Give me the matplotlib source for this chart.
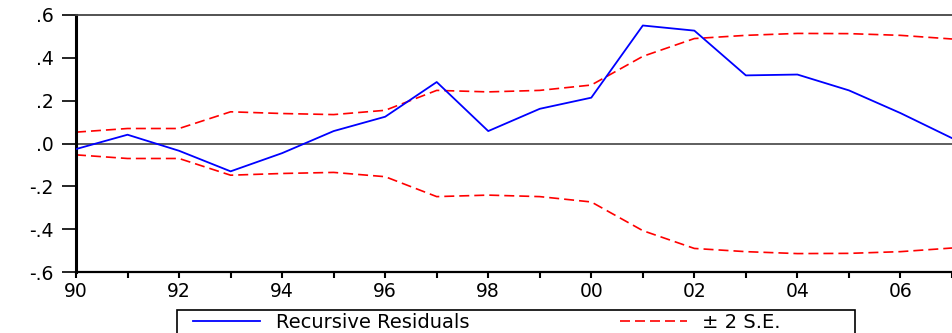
import matplotlib
matplotlib.use("Agg")
import matplotlib.pyplot as plt
from matplotlib.ticker import FixedLocator, FuncFormatter
from matplotlib.patches import Rectangle

years = list(range(1990, 2008))
resid = [-0.026, 0.041, -0.034, -0.130, -0.045, 0.058, 0.125, 0.287, 0.058,
         0.162, 0.214, 0.551, 0.527, 0.318, 0.322, 0.248, 0.142, 0.025]
se2 = [0.053, 0.070, 0.070, 0.148, 0.140, 0.135, 0.155, 0.248, 0.241,
       0.248, 0.273, 0.407, 0.490, 0.505, 0.514, 0.513, 0.505, 0.488]
neg_se2 = [-v for v in se2]
y_ticks = [-0.6, -0.4, -0.2, 0.0, 0.2, 0.4, 0.6]
x_label_years = list(range(1990, 2007, 2))
legend_labels = ['Recursive Residuals', '± 2 S.E.']

plt.rcParams['font.family'] = ['DejaVu Sans']

W, H = 952, 333
fig = plt.figure(figsize=(W/100, H/100), dpi=100)
ax = fig.add_axes([76/W, 61/H, 1 - 76/W, (272-15)/H])

ax.axhline(0, color='#333333', lw=1.1, zorder=1)
blue, = ax.plot(years, resid, color='#0000ff', lw=1.3, zorder=3)
l1, = ax.plot(years, se2, color='#ff0000', lw=1.2, zorder=2)
l2, = ax.plot(years, neg_se2, color='#ff0000', lw=1.2, zorder=2)
for l in (l1, l2):
    l.set_dashes([6, 3])

ax.set_xlim(1990, 2007)
ax.set_ylim(-0.6, 0.6)

ax.xaxis.set_major_locator(FixedLocator(years))
ax.xaxis.set_major_formatter(FuncFormatter(
    lambda v, p: ('%02d' % (int(round(v)) % 100)) if int(round(v)) in x_label_years else ''))
ax.yaxis.set_major_locator(FixedLocator(y_ticks))
def yfmt(v, p):
    s = '%.1f' % v
    s = s.replace('0.', '.')
    if s == '-.0':
        s = '.0'
    return s
ax.yaxis.set_major_formatter(FuncFormatter(yfmt))

ax.tick_params(axis='x', direction='out', length=4, width=1.5, color='black',
               labelsize=13.5, pad=3)
ax.tick_params(axis='y', direction='out', length=10, width=1.2, color='black',
               labelsize=13.5, pad=6)

ax.spines['left'].set_linewidth(2.2)
ax.spines['left'].set_color('black')
ax.spines['bottom'].set_linewidth(1.6)
ax.spines['bottom'].set_color('black')
ax.spines['top'].set_linewidth(1.3)
ax.spines['top'].set_color('#444444')
ax.spines['right'].set_visible(False)

fs = 14
em = fs * 100 / 72.0
leg = fig.legend(handles=[blue, l1], labels=legend_labels,
                 loc='upper left', bbox_to_anchor=(193/W, 1 - 313/H),
                 ncol=2, frameon=False, fontsize=fs,
                 handlelength=67/em, handletextpad=16/em, borderpad=0,
                 borderaxespad=0, columnspacing=150/em)

fig.patches.append(Rectangle((177/W, -0.1), (855-177)/W, 0.1 + (333-310)/H,
                             transform=fig.transFigure, fill=False,
                             edgecolor='black', lw=1.2))

fig.savefig('out.png', dpi=100)
